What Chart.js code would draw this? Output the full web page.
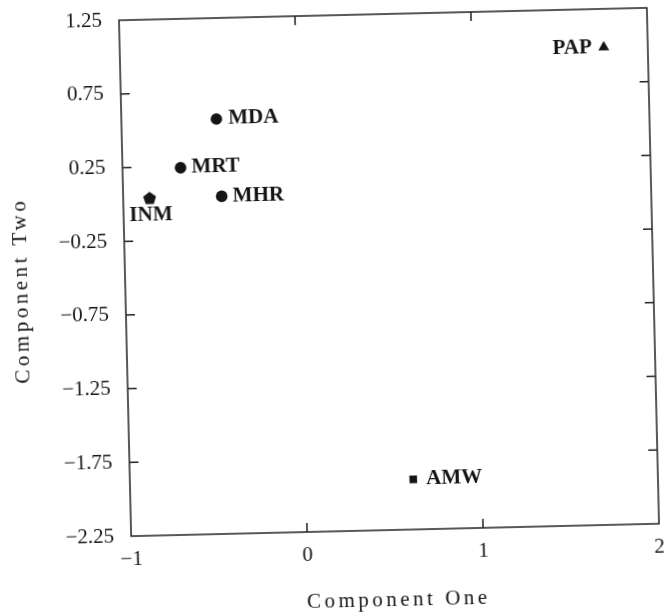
<!DOCTYPE html>
<html>
<head>
<meta charset="utf-8">
<script src="https://cdn.jsdelivr.net/npm/chart.js@4.4.1/dist/chart.umd.min.js"></script>
<style>
  html, body { margin: 0; padding: 0; background: #fff; }
  #wrap { position: absolute; left: 0; top: 0; width: 670px; height: 614px;
          transform: rotate(-1.35deg); transform-origin: 389px 272px; }
</style>
</head>
<body>
<div id="wrap"><canvas id="c" width="670" height="614"></canvas></div>
<script>
// ---- data ----
const pointLabels = ['PAP', 'MDA', 'MRT', 'MHR', 'INM', 'AMW'];
const componentOne = [1.75, -0.46, -0.67, -0.44, -0.85, 0.61];
const componentTwo = [0.99, 0.565, 0.24, 0.04, 0.04, -1.91];
const xTickLabels = ['\u22121', '0', '1', '2'];
const yTickLabels = ['\u22122.25', '\u22121.75', '\u22121.25', '\u22120.75', '\u22120.25', '0.25', '0.75', '1.25'];
const xTitle = 'Component One';
const yTitle = 'Component Two';

// ---- styling ----
const INK = '#151515';
const SERIF = "'Liberation Serif', 'Times New Roman', serif";

// pentagon marker
const pent = document.createElement('canvas');
pent.width = 15; pent.height = 15;
(function () {
  const g = pent.getContext('2d');
  g.fillStyle = INK;
  g.beginPath();
  for (let i = 0; i < 5; i++) {
    const a = -Math.PI / 2 + i * 2 * Math.PI / 5;
    const px = 7.5 + 6.8 * Math.cos(a), py = 8 + 6.8 * Math.sin(a);
    if (i === 0) g.moveTo(px, py); else g.lineTo(px, py);
  }
  g.closePath();
  g.fill();
})();

const markerStyles = ['triangle', 'circle', 'circle', 'circle', pent, 'rect'];
const markerRadius = [6.3, 5.8, 5.8, 5.8, 7, 5.4];
// label placement: [dx, dy, align]
const labelPlace = {
  PAP: [-12, 0, 'right'],
  MDA: [12, 0, 'left'],
  MRT: [11, 0, 'left'],
  MHR: [11, 0, 'left'],
  INM: [1, 17, 'center'],
  AMW: [13, 0, 'left']
};

const framePlugin = {
  id: 'frame',
  afterDraw(chart) {
    const ctx = chart.ctx;
    const a = chart.chartArea;
    const xs = chart.scales.x, ys = chart.scales.y;
    ctx.save();
    ctx.strokeStyle = '#222';
    ctx.lineWidth = 1.5;
    ctx.strokeRect(a.left, a.top, a.right - a.left, a.bottom - a.top);
    const TL = 9;
    ctx.beginPath();
    xs.ticks.forEach(t => {
      const px = xs.getPixelForValue(t.value);
      if (px - a.left < 2 || a.right - px < 2) return;
      ctx.moveTo(px, a.bottom); ctx.lineTo(px, a.bottom - TL);
      ctx.moveTo(px, a.top); ctx.lineTo(px, a.top + TL);
    });
    ys.ticks.forEach(t => {
      const py = ys.getPixelForValue(t.value);
      if (py - a.top < 2 || a.bottom - py < 2) return;
      ctx.moveTo(a.left, py); ctx.lineTo(a.left + TL, py);
      ctx.moveTo(a.right, py); ctx.lineTo(a.right - TL, py);
    });
    ctx.stroke();

    // point labels
    const meta = chart.getDatasetMeta(0);
    ctx.fillStyle = INK;
    ctx.font = 'bold 21px ' + SERIF;
    ctx.textBaseline = 'middle';
    meta.data.forEach((el, i) => {
      const name = pointLabels[i];
      const p = labelPlace[name];
      ctx.textAlign = p[2];
      ctx.fillText(name, el.x + p[0], el.y + p[1]);
    });

    // axis titles
    ctx.font = '21px ' + SERIF;
    ctx.letterSpacing = '3.5px';
    ctx.textAlign = 'center';
    ctx.textBaseline = 'middle';
    ctx.fillText(xTitle, (a.left + a.right) / 2 + 2, 600);
    ctx.translate(21.5, (a.top + a.bottom) / 2 + 12);
    ctx.rotate(-Math.PI / 2);
    ctx.fillText(yTitle, 2, 0);
    ctx.restore();
  }
};

const hiddenGrid = (len) => ({
  display: true, drawOnChartArea: false, drawTicks: true,
  tickLength: len, color: 'rgba(0,0,0,0)', lineWidth: 0
});

new Chart(document.getElementById('c'), {
  type: 'scatter',
  data: {
    datasets: [{
      data: componentOne.map((x, i) => ({ x: x, y: componentTwo[i] })),
      pointStyle: markerStyles,
      pointRadius: markerRadius,
      pointHoverRadius: markerRadius,
      backgroundColor: INK,
      borderColor: INK,
      borderWidth: 0
    }]
  },
  options: {
    responsive: false,
    animation: false,
    devicePixelRatio: 1,
    layout: { padding: { top: 14, right: 17, left: 0, bottom: 0 } },
    plugins: { legend: { display: false }, tooltip: { enabled: false } },
    scales: {
      x: {
        type: 'linear',
        min: -1, max: 2,
        afterFit: s => { s.height = 84; },
        grid: hiddenGrid(11),
        border: { display: false },
        ticks: {
          stepSize: 1, autoSkip: false, maxRotation: 0, padding: 0,
          color: INK, font: { family: SERIF, size: 21 },
          callback: (v, i) => xTickLabels[i]
        },
        title: { display: false }
      },
      y: {
        type: 'linear',
        min: -2.25, max: 1.25,
        afterFit: s => { s.width = 125; },
        grid: hiddenGrid(17),
        border: { display: false },
        ticks: {
          stepSize: 0.5, autoSkip: false, padding: 0,
          color: INK, font: { family: SERIF, size: 21 },
          callback: (v, i) => yTickLabels[i]
        },
        title: { display: false }
      }
    }
  },
  plugins: [framePlugin]
});
</script>
</body>
</html>
